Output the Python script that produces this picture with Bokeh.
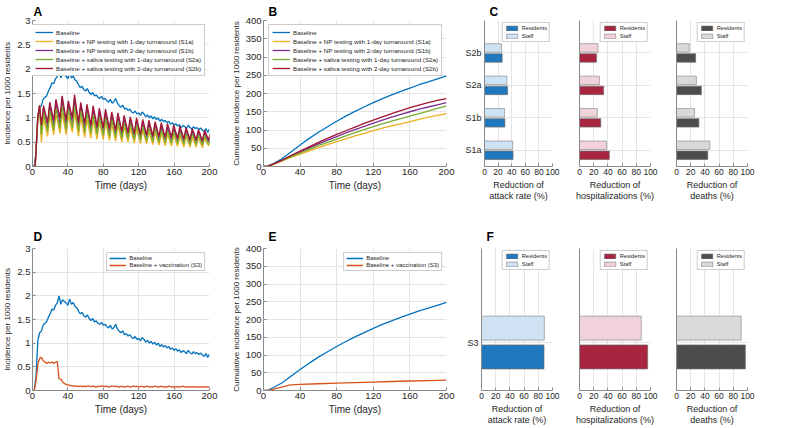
from bokeh.plotting import figure
from bokeh.layouts import row, column
from bokeh.models import Range1d, FixedTicker, Legend, LegendItem
from bokeh.embed import file_html
from bokeh.resources import INLINE

FONT = "Liberation Sans"

# ---------------- data ----------------
days2 = list(range(0, 201, 2))
baseline_inc = [
    0, 0, 0.3, 1.05, 1.22, 1.25, 1.38, 1.42, 1.45, 1.55,
    1.62, 1.72, 1.7, 1.8, 1.85, 2.0, 1.82, 1.92, 1.88, 1.85,
    1.8, 1.93, 1.82, 1.86, 1.78, 1.75, 1.68, 1.62, 1.65, 1.58,
    1.55, 1.6, 1.52, 1.48, 1.52, 1.45, 1.47, 1.42, 1.4, 1.44,
    1.38, 1.4, 1.35, 1.32, 1.38, 1.3, 1.33, 1.4, 1.3, 1.25,
    1.22, 1.26, 1.18, 1.2, 1.15, 1.18, 1.12, 1.1, 1.14, 1.08,
    1.1, 1.05, 1.12, 1.08, 1.02, 1.06, 1.0, 1.04, 0.98, 1.02,
    0.96, 1.0, 0.93, 0.97, 0.92, 0.95, 0.9, 0.93, 0.87, 0.9,
    0.85, 0.88, 0.83, 0.86, 0.8, 0.84, 0.82, 0.78, 0.85, 0.8,
    0.77, 0.82, 0.78, 0.8, 0.76, 0.79, 0.75, 0.72, 0.78, 0.7,
    0.77]
vacc_inc = [
    0, 0, 0.2, 0.55, 0.68, 0.7, 0.63, 0.6, 0.57, 0.6,
    0.58, 0.6, 0.57, 0.6, 0.61, 0.25, 0.24, 0.18, 0.15, 0.13,
    0.12, 0.11, 0.1, 0.09, 0.1, 0.09, 0.08, 0.1, 0.08, 0.09,
    0.08, 0.09, 0.1, 0.08, 0.09, 0.08, 0.07, 0.09, 0.08, 0.1,
    0.09, 0.08, 0.09, 0.07, 0.08, 0.1, 0.08, 0.09, 0.08, 0.07,
    0.09, 0.08, 0.07, 0.08, 0.09, 0.07, 0.08, 0.1, 0.08, 0.09,
    0.07, 0.08, 0.09, 0.07, 0.08, 0.09, 0.07, 0.08, 0.07, 0.09,
    0.08, 0.07, 0.08, 0.09, 0.07, 0.08, 0.07, 0.09, 0.08, 0.07,
    0.08, 0.07, 0.08, 0.07, 0.08, 0.09, 0.07, 0.08, 0.07, 0.08,
    0.07, 0.08, 0.07, 0.08, 0.07, 0.07, 0.08, 0.07, 0.08, 0.07,
    0.08]

# testing scenarios: initial rise, then weekly troughs / peaks
rise_days = [0, 3, 6, 8]
rise_vals = [0, 0, 1.0, 1.25]
tooth_days = list(range(10, 200, 7))
s1a_trough = [0.5, 0.62, 0.65, 0.68, 0.65, 0.7, 0.62, 0.6, 0.58, 0.56, 0.55, 0.53, 0.52, 0.5,
              0.5, 0.48, 0.47, 0.46, 0.45, 0.44, 0.43, 0.42, 0.41, 0.4, 0.4, 0.4, 0.38, 0.42]
s1a_peak = [1.0, 1.05, 1.08, 1.1, 1.05, 1.12, 1.02, 0.98, 0.95, 0.92, 0.9, 0.87, 0.84, 0.81,
            0.79, 0.77, 0.75, 0.72, 0.7, 0.68, 0.66, 0.65, 0.63, 0.62, 0.6, 0.6, 0.58, 0.57]
s1b_trough = [0.75, 0.8, 0.85, 0.88, 0.85, 0.9, 0.82, 0.8, 0.77, 0.75, 0.72, 0.7, 0.68, 0.66,
              0.64, 0.62, 0.6, 0.6, 0.58, 0.56, 0.55, 0.54, 0.53, 0.52, 0.5, 0.5, 0.48, 0.5]
s1b_peak = [1.2, 1.25, 1.3, 1.35, 1.28, 1.38, 1.25, 1.2, 1.15, 1.12, 1.08, 1.05, 1.02, 0.98,
            0.95, 0.92, 0.9, 0.88, 0.85, 0.83, 0.8, 0.78, 0.76, 0.75, 0.73, 0.72, 0.7, 0.68]
s2a_trough = [0.65, 0.72, 0.75, 0.78, 0.75, 0.8, 0.72, 0.7, 0.68, 0.66, 0.64, 0.62, 0.6, 0.58,
              0.57, 0.55, 0.54, 0.52, 0.51, 0.5, 0.49, 0.48, 0.47, 0.46, 0.45, 0.45, 0.44, 0.45]
s2a_peak = [1.12, 1.15, 1.2, 1.25, 1.18, 1.25, 1.15, 1.1, 1.07, 1.03, 1.0, 0.97, 0.94, 0.9,
            0.88, 0.86, 0.83, 0.8, 0.78, 0.76, 0.74, 0.72, 0.7, 0.68, 0.67, 0.65, 0.64, 0.62]
s2b_trough = [0.85, 0.9, 0.95, 1.0, 0.95, 1.0, 0.9, 0.88, 0.85, 0.82, 0.8, 0.78, 0.75, 0.72,
              0.7, 0.68, 0.66, 0.65, 0.63, 0.62, 0.6, 0.6, 0.58, 0.57, 0.55, 0.55, 0.53, 0.55]
s2b_peak = [1.25, 1.32, 1.38, 1.45, 1.35, 1.48, 1.32, 1.28, 1.25, 1.2, 1.18, 1.12, 1.1, 1.05,
            1.02, 1.0, 0.97, 0.95, 0.92, 0.9, 0.88, 0.85, 0.83, 0.8, 0.78, 0.76, 0.74, 0.72]

cum_days = [0, 5, 10, 20, 30, 40, 50, 60, 70, 80, 90, 100, 110, 120, 130, 140, 150, 160, 170, 180, 190, 200]
base_cum = [0, 1, 7, 21, 40, 59, 77, 94, 109, 124, 138, 151, 163, 175, 186, 196, 206, 215, 224, 232, 240, 248]
s1a_cum = [0, 1, 6, 15, 25, 34, 43, 52, 60, 68, 76, 84, 91, 98, 105, 111, 117, 123, 129, 135, 140, 145]
s1b_cum = [0, 1, 6, 17, 29, 40, 51, 62, 72, 82, 92, 101, 110, 119, 127, 135, 143, 150, 157, 163, 169, 175]
s2a_cum = [0, 1, 6, 16, 27, 37, 47, 57, 66, 75, 84, 93, 101, 109, 117, 124, 131, 138, 145, 152, 159, 166]
s2b_cum = [0, 1, 6, 17, 30, 42, 54, 66, 77, 88, 98, 108, 118, 127, 136, 145, 153, 161, 168, 175, 181, 186]
vac_cum_days = [0, 5, 10, 20, 28, 30, 40, 60, 80, 100, 120, 140, 160, 180, 200]
vac_cum = [0, 0.5, 3, 9.5, 15, 15.6, 17, 19, 20.6, 22.2, 23.8, 25.4, 26.8, 28, 29.2]

scenarios = ["S1a", "S1b", "S2a", "S2b"]
attack_res = [42, 30, 34, 26]
attack_staff = [41.5, 29.5, 33, 25]
hosp_res = [42, 30, 34, 24]
hosp_staff = [38, 25, 28, 26]
death_res = [44, 31.5, 35, 27]
death_staff = [47, 25.5, 28, 18]

vac_scen = ["S3"]
v_attack_res = [88]
v_attack_staff = [88.5]
v_hosp_res = [96]
v_hosp_staff = [87]
v_death_res = [97]
v_death_staff = [91]

series_labels = ["Baseline",
                 "Baseline + NP testing with 1-day turnaround (S1a)",
                 "Baseline + NP testing with 2-day turnaround (S1b)",
                 "Baseline + saliva testing with 1-day turnaround (S2a)",
                 "Baseline + saliva testing with 2-day turnaround (S2b)"]
vac_labels = ["Baseline", "Baseline + vaccination (S3)"]

# ---------------- styles ----------------
C_BLUE = "#0072BD"
C_ORANGE = "#D95319"
C_YELLOW = "#EDB120"
C_PURPLE = "#7E2F8E"
C_GREEN = "#77AC30"
C_RED = "#A2142F"
AX = "#8a8a8a"
TXT = "#262626"
GRID = "#e4e4e4"

TOP_H, BOT_H = 212, 215
TOP_B = (18, 46)
BOT_B = (36, 31)


def mkfig(w, h, xr, yr, bl, br, bt, bb):
    p = figure(width=w, height=h, x_range=xr, y_range=yr, output_backend="svg",
               toolbar_location=None, min_border_left=bl, min_border_right=br,
               min_border_top=bt, min_border_bottom=bb)
    p.outline_line_color = None
    p.background_fill_color = "white"
    p.border_fill_color = "white"
    p.grid.grid_line_color = GRID
    p.grid.grid_line_width = 1
    for ax in p.axis:
        ax.axis_line_color = AX
        ax.major_tick_line_color = AX
        ax.major_tick_in = 3
        ax.major_tick_out = 0
        ax.minor_tick_line_color = None
        ax.major_label_text_font = FONT
        ax.major_label_text_font_size = "9.5px"
        ax.major_label_text_color = TXT
        ax.major_label_standoff = 2
        ax.axis_label_text_font = FONT
        ax.axis_label_text_font_style = "normal"
        ax.axis_label_text_color = TXT
        ax.axis_label_standoff = 2
    return p


def panel_title(p, txt, offset, standoff):
    p.title.text = txt
    p.title.text_font = FONT
    p.title.text_font_size = "12px"
    p.title.text_font_style = "bold"
    p.title.text_color = "black"
    p.title.align = "left"
    p.title.offset = offset
    p.title.standoff = standoff


def style_legend(lg, fs, gw, gh, sp, pad=2):
    lg.label_text_font = FONT
    lg.label_text_font_size = fs
    lg.label_text_color = TXT
    lg.glyph_width = gw
    lg.glyph_height = gh
    lg.label_height = gh
    lg.spacing = sp
    lg.padding = pad
    lg.margin = 4
    lg.label_standoff = 3
    lg.border_line_color = "#9a9a9a"
    lg.border_line_width = 1
    lg.background_fill_alpha = 1


def time_axes(p, yt, ylabel, overrides=None):
    p.xaxis.ticker = FixedTicker(ticks=[0, 40, 80, 120, 160, 200])
    p.yaxis.ticker = FixedTicker(ticks=yt)
    if overrides:
        p.yaxis.major_label_overrides = overrides
    p.xaxis.axis_label = "Time (days)"
    p.xaxis.axis_label_text_font_size = "10px"
    p.yaxis.axis_label = ylabel
    p.yaxis.axis_label_text_font_size = "8px"


def sawtooth(troughs, peaks):
    t = list(rise_days)
    y = list(rise_vals)
    for d, lo, hi in zip(tooth_days, troughs, peaks):
        t += [d, d + 2.5]
        y += [lo, hi]
    return t, y


inc_over = {0: "0", 0.5: "0.5", 1: "1", 1.5: "1.5", 2: "2", 2.5: "2.5", 3: "3"}

# ---------------- Panel A ----------------
pA = mkfig(228, TOP_H, Range1d(0, 200), Range1d(0, 3), 24, 19, *TOP_B)
time_axes(pA, [0, 0.5, 1, 1.5, 2, 2.5, 3], "Incidence per 1000 residents", inc_over)
rA = [pA.line(days2, baseline_inc, color=C_BLUE, line_width=1.3)]
for (tr, pk), col in zip([(s1a_trough, s1a_peak), (s1b_trough, s1b_peak),
                          (s2a_trough, s2a_peak), (s2b_trough, s2b_peak)],
                         [C_YELLOW, C_PURPLE, C_GREEN, C_RED]):
    tt, yy = sawtooth(tr, pk)
    rA.append(pA.line(tt, yy, color=col, line_width=1.3))
lgA = Legend(items=[LegendItem(label=l, renderers=[r]) for l, r in zip(series_labels, rA)],
             location="top_right")
style_legend(lgA, "6.2px", 18, 8, 1, 3)
pA.add_layout(lgA)
panel_title(pA, "A", 1, 4)

# ---------------- Panel B ----------------
pB = mkfig(234, TOP_H, Range1d(0, 200), Range1d(0, 400), 30, 16, *TOP_B)
time_axes(pB, list(range(0, 401, 50)), "Cumulative incidence per 1000 residents")
rB = []
for ys, col in zip([base_cum, s1a_cum, s1b_cum, s2a_cum, s2b_cum],
                   [C_BLUE, C_YELLOW, C_PURPLE, C_GREEN, C_RED]):
    rB.append(pB.line(cum_days, ys, color=col, line_width=1.3))
lgB = Legend(items=[LegendItem(label=l, renderers=[r]) for l, r in zip(series_labels, rB)],
             location="top_right")
style_legend(lgB, "6.2px", 18, 8, 1, 3)
pB.add_layout(lgB)
panel_title(pB, "B", 5, 4)

# ---------------- Panel D ----------------
pD = mkfig(228, BOT_H, Range1d(0, 200), Range1d(0, 3), 24, 19, *BOT_B)
time_axes(pD, [0, 0.5, 1, 1.5, 2, 2.5, 3], "Incidence per 1000 residents", inc_over)
rD = [pD.line(days2, baseline_inc, color=C_BLUE, line_width=1.3),
      pD.line(days2, vacc_inc, color=C_ORANGE, line_width=1.3)]
lgD = Legend(items=[LegendItem(label=l, renderers=[r]) for l, r in zip(vac_labels, rD)],
             location="top_right")
style_legend(lgD, "6px", 17, 6, 1)
pD.add_layout(lgD)
panel_title(pD, "D", 1, 9)

# ---------------- Panel E ----------------
pE = mkfig(234, BOT_H, Range1d(0, 200), Range1d(0, 400), 30, 16, *BOT_B)
time_axes(pE, list(range(0, 401, 50)), "Cumulative incidence per 1000 residents")
rE = [pE.line(cum_days, base_cum, color=C_BLUE, line_width=1.3),
      pE.line(vac_cum_days, vac_cum, color=C_ORANGE, line_width=1.3)]
lgE = Legend(items=[LegendItem(label=l, renderers=[r]) for l, r in zip(vac_labels, rE)],
             location="top_right")
style_legend(lgE, "6px", 17, 6, 1)
pE.add_layout(lgE)
panel_title(pE, "E", 5, 9)


# ---------------- bar panels ----------------
def bar_panel(w, h, bl, br, bt, bb, cats, res, staff, c_res, c_staff, xlabel,
              show_cats, ytop, bar_h, off, letter=None, standoff=4):
    pos = list(range(1, len(cats) + 1))
    p = mkfig(w, h, Range1d(0, 100), Range1d(0.5, ytop), bl, br, bt, bb)
    p.xaxis.ticker = FixedTicker(ticks=[0, 20, 40, 60, 80, 100])
    p.xaxis.major_label_text_font_size = "8.5px"
    p.xaxis.axis_label = xlabel
    p.xaxis.axis_label_text_font_size = "9px"
    p.xaxis.axis_label_text_line_height = 1.1
    p.yaxis.major_tick_line_color = None
    p.ygrid.ticker = FixedTicker(ticks=pos)
    if show_cats:
        p.yaxis.ticker = FixedTicker(ticks=pos)
        p.yaxis.major_label_overrides = {v: c for v, c in zip(pos, cats)}
        p.yaxis.major_label_text_font_size = "9px"
        p.yaxis.major_label_standoff = 3
    else:
        p.yaxis.ticker = FixedTicker(ticks=[])
    r_res = p.hbar(y=[v - off for v in pos], right=res, left=0, height=bar_h,
                   fill_color=c_res, line_color="#6e6e6e", line_width=0.7)
    r_staff = p.hbar(y=[v + off for v in pos], right=staff, left=0, height=bar_h,
                     fill_color=c_staff, line_color="#8e8e8e", line_width=0.7)
    lg = Legend(items=[LegendItem(label="Residents", renderers=[r_res]),
                       LegendItem(label="Staff", renderers=[r_staff])],
                location="top_right")
    style_legend(lg, "5.7px", 14, 6, 2)
    lg.margin = 2
    p.add_layout(lg)
    if letter:
        panel_title(p, letter, 5, standoff)
    return p


LBL_ATT = "Reduction of\nattack rate (%)"
LBL_HOSP = "Reduction of\nhospitalizations (%)"
LBL_DEATH = "Reduction of\ndeaths (%)"

RES_BLUE, STAFF_BLUE = "#1f78be", "#cfe2f3"
RES_RED, STAFF_RED = "#a8243f", "#f2d2da"
RES_GRAY, STAFF_GRAY = "#4d4d4d", "#d9d9d9"

pC1 = bar_panel(104, TOP_H, 19, 14, *TOP_B, scenarios, attack_res, attack_staff, RES_BLUE, STAFF_BLUE,
                LBL_ATT, True, 5.0, 0.26, 0.155, "C", 4)
pC2 = bar_panel(97, TOP_H, 13, 13, *TOP_B, scenarios, hosp_res, hosp_staff, RES_RED, STAFF_RED,
                LBL_HOSP, False, 5.0, 0.26, 0.155)
pC3 = bar_panel(113, TOP_H, 13, 29, *TOP_B, scenarios, death_res, death_staff, RES_GRAY, STAFF_GRAY,
                LBL_DEATH, False, 5.0, 0.26, 0.155)

pF1 = bar_panel(104, BOT_H, 19, 14, *BOT_B, vac_scen, v_attack_res, v_attack_staff, RES_BLUE, STAFF_BLUE,
                LBL_ATT, True, 1.98, 0.25, 0.15, "F", 9)
pF2 = bar_panel(97, BOT_H, 13, 13, *BOT_B, vac_scen, v_hosp_res, v_hosp_staff, RES_RED, STAFF_RED,
                LBL_HOSP, False, 1.98, 0.25, 0.15)
pF3 = bar_panel(113, BOT_H, 13, 29, *BOT_B, vac_scen, v_death_res, v_death_staff, RES_GRAY, STAFF_GRAY,
                LBL_DEATH, False, 1.98, 0.25, 0.15)

layout = column(row(pA, pB, pC1, pC2, pC3), row(pD, pE, pF1, pF2, pF3))
open("out.html", "w").write(file_html(layout, INLINE, title="Figure"))
